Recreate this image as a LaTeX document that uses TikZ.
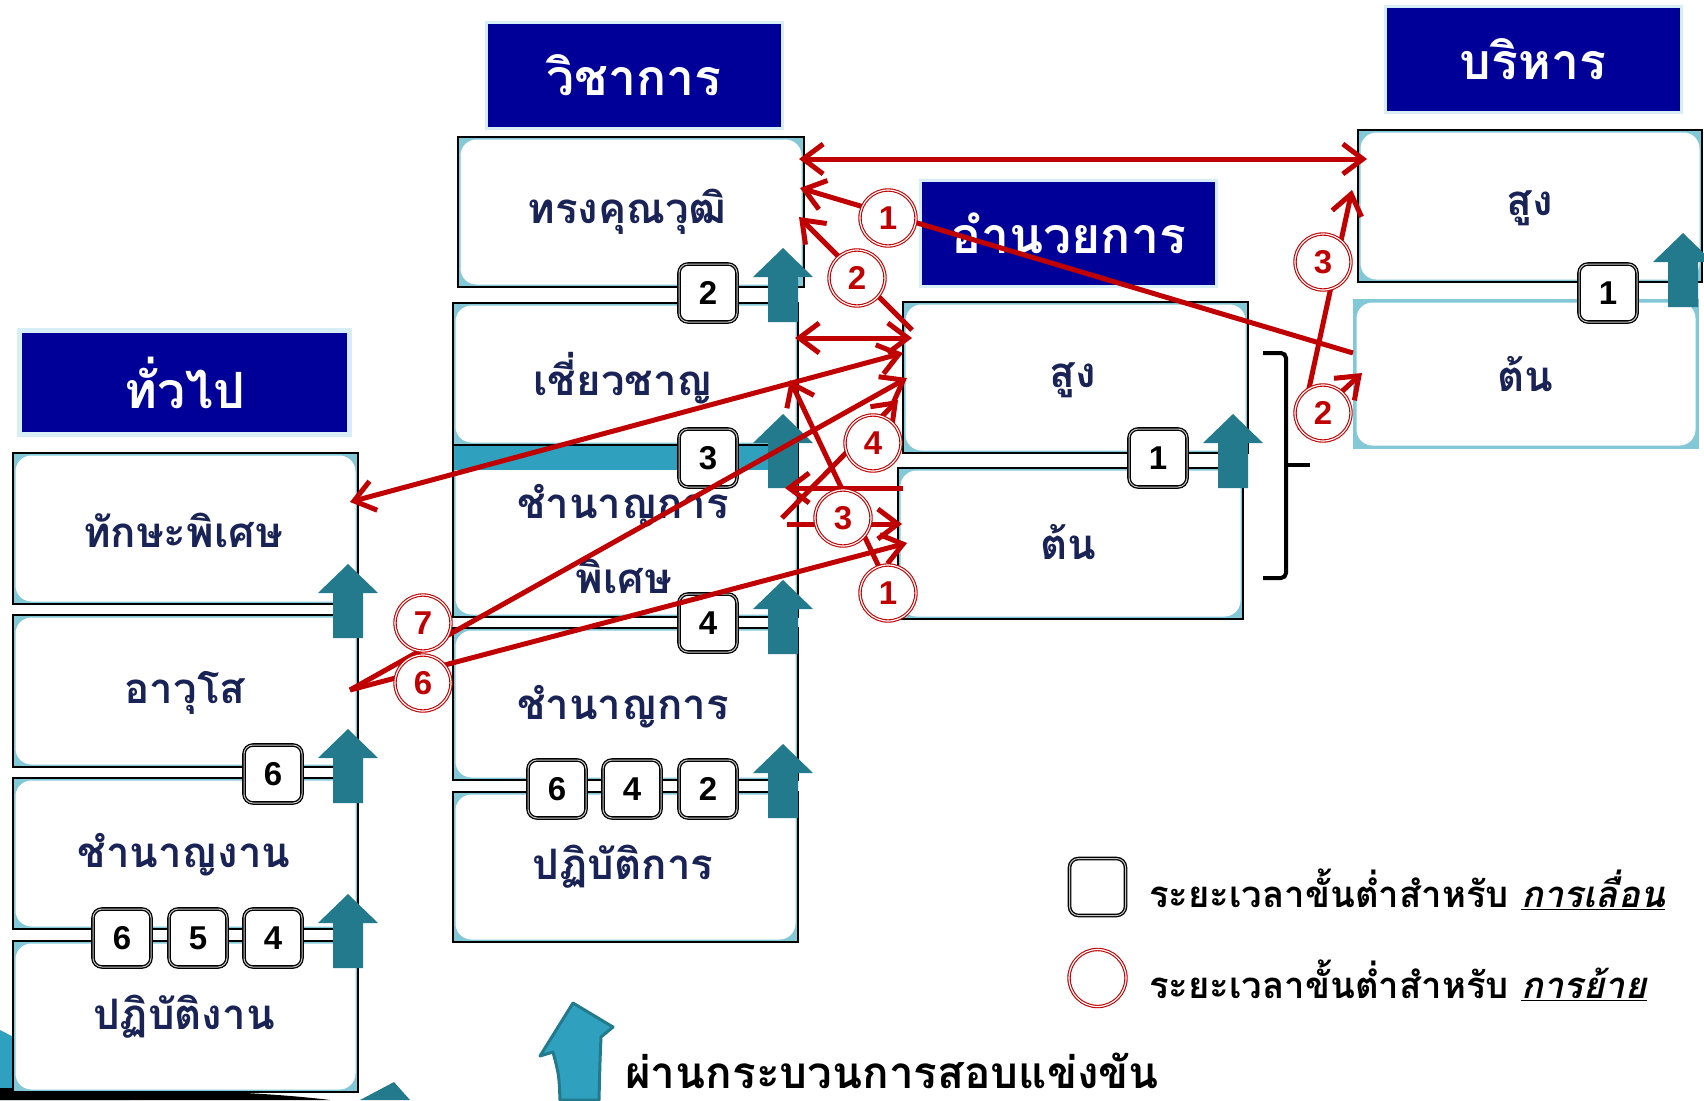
\documentclass[tikz,border=0pt]{standalone}
\usepackage{fontspec}
\newfontfamily\thai[Script=Thai]{Loma}
\newfontfamily\dig{Liberation Sans}
\usetikzlibrary{arrows.meta}
\definecolor{hdr}{RGB}{0,0,153}
\definecolor{hdrb}{RGB}{215,238,246}
\definecolor{tealA}{RGB}{35,122,140}
\definecolor{tealB}{RGB}{47,160,190}
\definecolor{rd}{RGB}{192,0,0}
\definecolor{navy}{RGB}{25,35,85}
\definecolor{glow}{RGB}{130,200,215}
\newcommand\tealup[2]{\fill[tealA] (#1,#2) -- ++(30,29) -- ++(-15,0) -- ++(0,45) -- ++(-30,0) -- ++(0,-45) -- ++(-15,0) -- cycle;}
\begin{document}
\begin{tikzpicture}[x=1pt,y=-1pt,
  hdrbox/.style={fill=hdr, draw=hdrb, line width=3pt, inner sep=0, text=white,
    minimum width=296pt, minimum height=106pt, font=\thai\bfseries\fontsize{50}{54}\selectfont},
  gbox/.style={draw=black, line width=1.5pt, fill=glow, inner sep=0,
    path picture={\fill[white, rounded corners=16pt]
      ([shift={(2.5pt,-2.5pt)}]path picture bounding box.north west) rectangle
      ([shift={(-2.5pt,2.5pt)}]path picture bounding box.south east);}},
  btext/.style={font=\thai\bfseries\fontsize{42}{45}\selectfont, text=navy, inner sep=0},
  nbox/.style={draw=black, double=gray!45, double distance=1pt, line width=1.3pt, fill=white,
    rounded corners=9pt, minimum width=58pt, minimum height=58pt, inner sep=0,
    font=\dig\bfseries\fontsize{33}{33}\selectfont},
  circ/.style={circle, draw=rd, double=white, double distance=1.2pt, line width=1.1pt, fill=white,
    minimum size=56pt, inner sep=0, text=rd, font=\dig\bfseries\fontsize{33}{33}\selectfont},
  rarr/.style={draw=rd, line width=5pt, -{Straight Barb[length=20pt,width=30pt]}},
  rdarr/.style={draw=rd, line width=5pt, {Straight Barb[length=20pt,width=30pt]}-{Straight Barb[length=20pt,width=30pt]}},
  ltext/.style={anchor=west, inner sep=0, font=\thai\bfseries\fontsize{36.5}{38}\selectfont}
]
\useasboundingbox (0,0) rectangle (1704,1100);
\fill[white] (0,0) rectangle (1704,1100);

% background decorations
\fill[tealB] (0,1030) .. controls (30,1045) and (70,1070) .. (130,1100) -- (0,1100) -- cycle;
\fill[black] (0,1088) .. controls (120,1088) and (250,1090) .. (330,1100) -- (0,1100) -- cycle;
\fill[tealA] (360,1100) -- (394,1082) -- (410,1100) -- cycle;

% left column
\node[gbox, minimum width=345pt, minimum height=151pt] (tks) at (185.5,528.5) {};
\node[gbox, minimum width=345pt, minimum height=152pt] (avs) at (185.5,691) {};
\node[gbox, minimum width=345pt, minimum height=151pt] (cng) at (185.5,853.5) {};
\node[gbox, minimum width=345pt, minimum height=151pt] (pgn) at (185.5,1016.5) {};
% middle column
\node[gbox, minimum width=346pt, minimum height=150pt] (tkv) at (631,212) {};
\node[gbox, minimum width=345pt, minimum height=142pt] (cc) at (625.5,374) {};
\node[gbox, minimum width=345pt, minimum height=172pt] (cgp) at (625.5,531) {};
\fill[tealB] (454,446) rectangle (797,470);
\node[gbox, minimum width=345pt, minimum height=152pt] (cgk) at (625.5,704) {};
\node[gbox, minimum width=345pt, minimum height=150pt] (pgk) at (625.5,867) {};
% director column
\node[gbox, minimum width=345pt, minimum height=151pt] (asg) at (1075.5,377.5) {};
\node[gbox, minimum width=345pt, minimum height=151pt] (atn) at (1070.5,543.5) {};
% executive column
\node[gbox, minimum width=344pt, minimum height=152pt] (bsg) at (1530,206) {};
\node[gbox, draw=glow, minimum width=344pt, minimum height=148pt] (btn) at (1526,374) {};

% box texts
\node[btext] (t1) at (183,530) {ทักษะพิเศษ};
\node[btext] (t2) at (185,693) {อาวุโส};
\node[btext] (t3) at (184,855) {ชำนาญงาน};
\node[btext] (t4) at (184,1017) {ปฏิบัติงาน};
\node[btext] (t5) at (627,212) {ทรงคุณวุฒิ};
\node[btext] (t6) at (623,378) {เชี่ยวชาญ};
\node[btext] (t7) at (623,506) {ชำนาญการ};
\node[btext] (t8) at (624,576) {พิเศษ};
\node[btext] (t9) at (623,707) {ชำนาญการ};
\node[btext] (t10) at (623,867) {ปฏิบัติการ};
\node[btext] (t11) at (1073,380) {สูง};
\node[btext] (t12) at (1068,542) {ต้น};
\node[btext] (t13) at (1530,208) {สูง};
\node[btext] (t14) at (1525,374) {ต้น};

% number boxes
\node[nbox] (n1) at (273,774) {6};
\node[nbox] (n2) at (122,938) {6};
\node[nbox] (n3) at (198,938) {5};
\node[nbox] (n4) at (273,938) {4};
\node[nbox] (n5) at (708,293) {2};
\node[nbox] (n6) at (708,458) {3};
\node[nbox] (n7) at (708,623) {4};
\node[nbox] (n8) at (557,789) {6};
\node[nbox] (n9) at (632,789) {4};
\node[nbox] (n10) at (708,789) {2};
\node[nbox] (n11) at (1158,458) {1};
\node[nbox] (n12) at (1608,293) {1};

% teal up arrows
\tealup{348}{564}
\tealup{348}{729}
\tealup{348}{894}
\tealup{783}{248}
\tealup{783}{414}
\tealup{783}{580}
\tealup{783}{744}
\tealup{1233}{414}
\tealup{1683}{233}

% headers
\node[hdrbox, minimum width=330pt, minimum height=104pt, line width=5pt] (h1) at (184.5,382.5) {ทั่วไป};
\node[hdrbox] (h2) at (634,75.5) {วิชาการ};
\node[hdrbox] (h3) at (1068.5,233.5) {อำนวยการ};
\node[hdrbox] (h4) at (1533,59.5) {บริหาร};

% bracket
\draw[line width=4pt, rounded corners=5pt] (1263,353) -- (1286,353) -- (1286,578) -- (1263,578);
\draw[line width=4pt] (1286,465) -- (1310,465);

% red connector end points
\coordinate (a1) at (799,159);  \coordinate (b1) at (1367,159);
\coordinate (a2) at (1353,353); \coordinate (b2) at (800,188);
\coordinate (a3) at (912,330);  \coordinate (b3) at (799,217);
\coordinate (a4) at (795,338);  \coordinate (b4) at (912,338);
\coordinate (a5) at (350,502);  \coordinate (b5) at (903,353);
\coordinate (a6) at (350,690);  \coordinate (b6) at (907,378);
\coordinate (b7) at (907,543);
\coordinate (a8) at (782,518);  \coordinate (b8) at (898,400);
\coordinate (a9) at (903,488);  \coordinate (b9) at (785,488);
\coordinate (a10) at (787,524); \coordinate (b10) at (902,524);
\coordinate (a11) at (890,590); \coordinate (b11) at (790,380);
\coordinate (a12) at (1300,430); \coordinate (b12) at (1352,190);
\coordinate (b13) at (1362,373);

\draw[rdarr] (a1) -- (b1);
\draw[rarr] (a2) -- (b2);
\draw[rarr] (a3) -- (b3);
\draw[rdarr] (a4) -- (b4);
\draw[rdarr] (a5) -- (b5);
\draw[rarr] (a6) -- (b6);
\draw[rarr] (a6) -- (b7);
\draw[rarr] (a8) -- (b8);
\draw[rarr] (a9) -- (b9);
\draw[rarr] (a10) -- (b10);
\draw[rarr] (a11) -- (b11);
\draw[rarr] (a12) -- (b12);
\draw[rarr] (a12) -- (b13);

% circles
\node[circ] (c1) at (888,218) {1};
\node[circ] (c2) at (857,278) {2};
\node[circ] (c3) at (1323,262) {3};
\node[circ] (c4) at (1323,413) {2};
\node[circ] (c5) at (873,443) {4};
\node[circ] (c6) at (843,518) {3};
\node[circ] (c7) at (888,593) {1};
\node[circ] (c8) at (423,623) {7};
\node[circ] (c9) at (423,683) {6};

% legend
\node[nbox, minimum width=56pt, minimum height=57pt] (lsq) at (1097.5,887) {};
\node[circ, minimum size=57pt] (lci) at (1097.5,978) {};
\node[ltext] (l1) at (1149,889) {ระยะเวลาขั้นต่ำสำหรับ \underline{\itshape การเลื่อน}};
\node[ltext] (l2) at (1149,980) {ระยะเวลาขั้นต่ำสำหรับ \underline{\itshape การย้าย}};

% bottom curved arrow and text
\filldraw[fill=tealB, draw=tealA, line width=3pt, line join=round]
  (573,1003) -- (613,1027) -- (601,1037) .. controls (600,1060) .. (599,1100)
  -- (560,1100) .. controls (559,1075) .. (553,1052) -- (540,1056) -- cycle;
\node[anchor=base west, inner sep=0, font=\thai\bfseries\fontsize{44}{46}\selectfont] (bt) at (625,1088) {ผ่านกระบวนการสอบแข่งขัน};
\end{tikzpicture}
\end{document}
